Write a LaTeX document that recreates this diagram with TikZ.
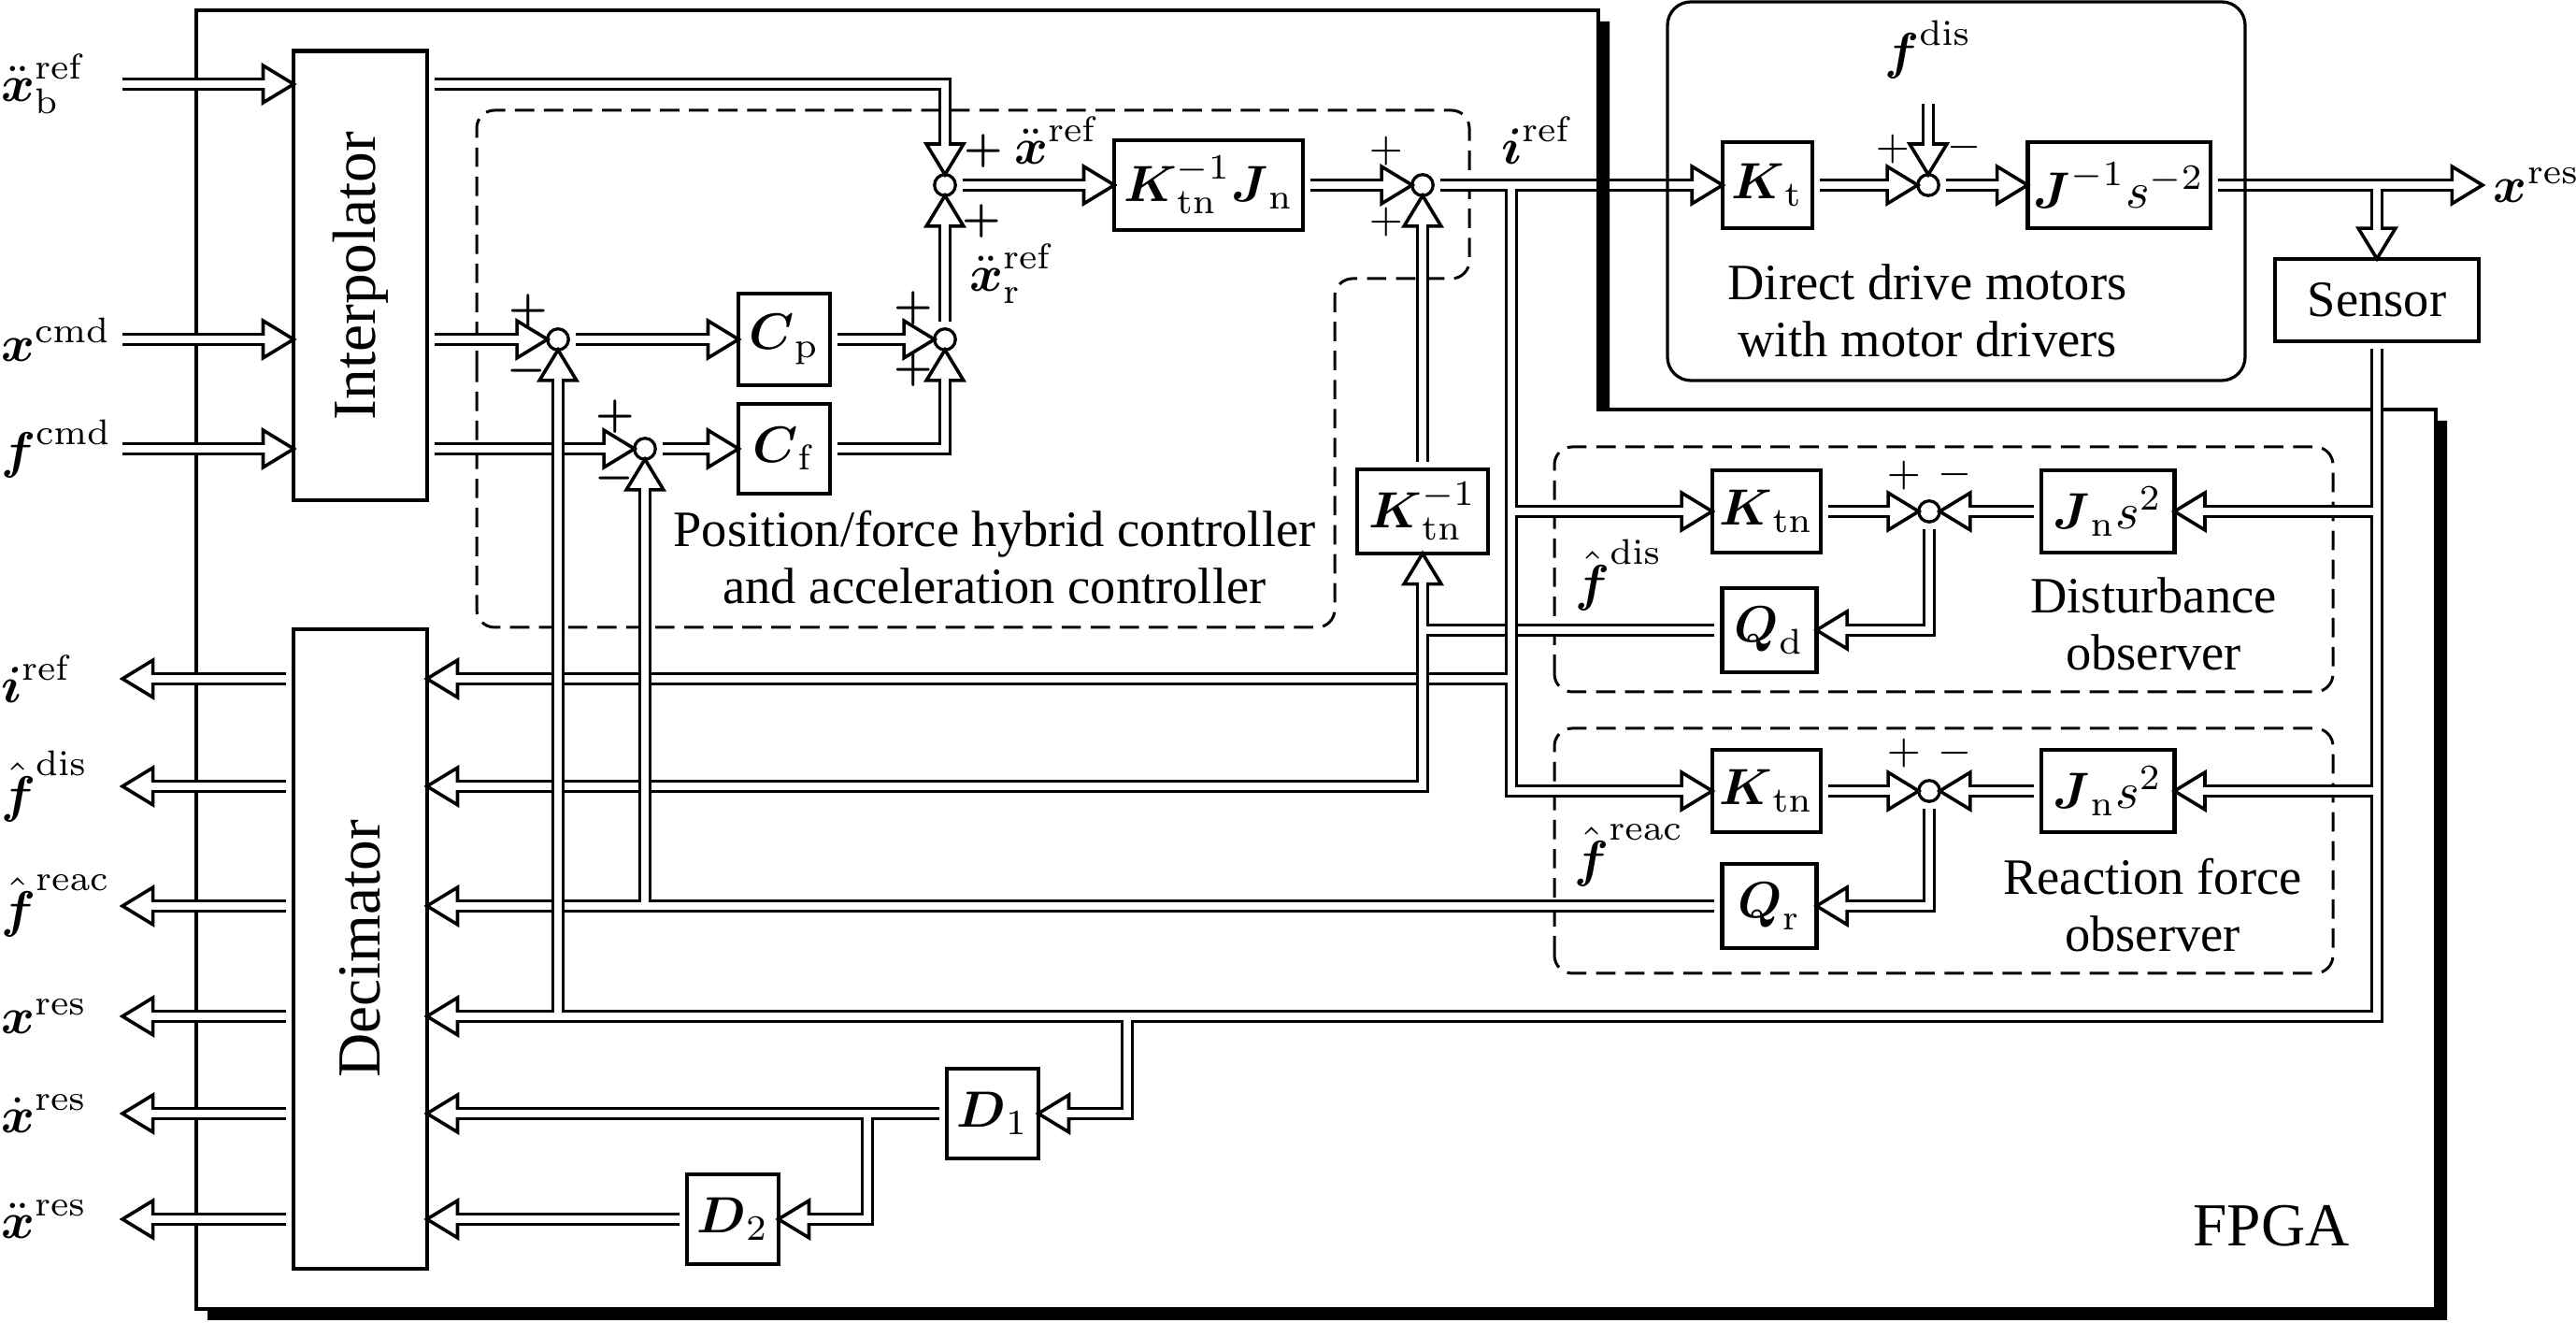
\documentclass[tikz,border=0pt]{standalone}
\usepackage{amsmath}
\usepackage{amssymb}
\usepackage[no-math]{fontspec}
\setmainfont{Liberation Serif}
\usetikzlibrary{positioning}
\usetikzlibrary{calc}
% hollow head for the double signal lines
\pgfarrowsdeclare{hollow}{hollow}
  {\pgfarrowsleftextend{-0.4pt}\pgfarrowsrightextend{6pt}}
  {\pgfsetlinewidth{0.66pt}\pgfsetdash{}{0pt}\pgfsetmiterjoin
   \pgfpathmoveto{\pgfpoint{6pt}{0pt}}
   \pgfpathlineto{\pgfpoint{0pt}{3.65pt}}
   \pgfpathlineto{\pgfpoint{0pt}{-3.65pt}}
   \pgfpathclose
   \pgfsetfillcolor{white}
   \pgfusepathqfillstroke}
\tikzset{>=hollow}

\begin{document}
\begin{tikzpicture}[x=0.645cm, y=0.645cm,
    wire/.style={draw=black, line width=2.7pt, postaction={draw=white, line width=1.3pt, -, shorten >=4.6pt}},
    gap/.style={shorten <=1.5pt},
    tap/.style={shorten <=0.65pt},
    block/.style={draw, line width=0.8pt, inner sep=0pt, outer sep=0pt},
    sum/.style={draw, circle, line width=0.6pt, inner sep=0pt, outer sep=0pt, minimum size=0.145cm},
    sgn/.style={inner sep=0pt, font=\footnotesize},
    sig/.style={anchor=west, inner sep=0pt},
    grp/.style={line width=0.55pt, dash pattern=on 3.8pt off 1.9pt, rounded corners=3.5pt},
    txt/.style={align=center, font=\fontsize{10}{11.2}\selectfont}]
\useasboundingbox (0,0) rectangle (27.56,14.15);

% FPGA board and its shadow
\fill [shift={(0.12,-0.12)}] (2.10,14.04) -- (17.10,14.04) -- (17.10,9.77) -- (26.06,9.77) -- (26.06,0.15) -- (2.10,0.15) -- cycle;
\draw [line width=0.8pt, fill=white] (2.10,14.04) -- (17.10,14.04) -- (17.10,9.77) -- (26.06,9.77) -- (26.06,0.15) -- (2.10,0.15) -- cycle;

% dashed groups
\draw [grp] (5.10,10.00) -- (5.10,12.97) -- (15.72,12.97) -- (15.72,11.17) -- (14.28,11.17) -- (14.28,7.44) -- (5.10,7.44) -- cycle;
\draw [grp] (16.63,6.75) rectangle (24.96,9.37);
\draw [grp] (16.63,3.74) rectangle (24.96,6.36);

% interpolator / decimator
\node [block, minimum width=0.92cm, minimum height=3.1cm] (interp) at (3.855,11.20) {\rotatebox{90}{\large Interpolator}};
\node [block, minimum width=0.92cm, minimum height=4.41cm] (dec) at (3.855,4.00) {\rotatebox{90}{\large Decimator}};

% hybrid controller
\node [sum] (sum3) at (5.97,10.52) {};
\node [sum] (sum4) at (6.90,9.35) {};
\node [block, minimum width=0.63cm, minimum height=0.63cm] (Cp) at (8.39,10.52) {$\boldsymbol{C}_{\mathrm{p}}$};
\node [block, minimum width=0.63cm, minimum height=0.62cm] (Cf) at (8.39,9.35) {$\boldsymbol{C}_{\mathrm{f}}$};
\node [sum] (sum5) at (10.11,10.52) {};
\node [sum] (sum1) at (10.11,12.17) {};
\node [block, minimum width=1.3cm, minimum height=0.62cm] (KJ) at (12.93,12.17) {$\boldsymbol{K}_{\mathrm{tn}}^{-1}\boldsymbol{J}_{\mathrm{n}}$};
\node [sum] (sum2) at (15.22,12.17) {};
\node [block, minimum width=0.9cm, minimum height=0.58cm] (Ktninv) at (15.22,8.68) {$\boldsymbol{K}_{\mathrm{tn}}^{-1}$};

% motors and sensor
\node [block, minimum width=0.62cm, minimum height=0.59cm] (Kt) at (18.91,12.17) {$\boldsymbol{K}_{\mathrm{t}}$};
\node [sum] (sum6) at (20.63,12.17) {};
\node [block, minimum width=1.26cm, minimum height=0.59cm] (Jinv) at (22.67,12.17) {$\boldsymbol{J}^{-1}s^{-2}$};
\node (fdis) at (20.63,13.62) {$\boldsymbol{f}^{\mathrm{dis}}$};
\node [block, minimum width=1.41cm, minimum height=0.57cm] (sensor) at (25.43,10.94) {Sensor};

% observers
\foreach \o/\y/\q in {d/8.68/7.41, r/5.69/4.46} {
  \node [block, minimum width=0.75cm, minimum height=0.57cm] (Ktn\o) at (18.90,\y) {$\boldsymbol{K}_{\mathrm{tn}}$};
  \node [sum] (sum\o) at (20.64,\y) {};
  \node [block, minimum width=0.92cm, minimum height=0.57cm] (Jns\o) at (22.55,\y) {$\boldsymbol{J}_{\mathrm{n}}s^2$};
  \node [block, minimum width=0.65cm, minimum height=0.58cm] (Q\o) at (18.93,\q) {$\boldsymbol{Q}_{\mathrm{\o}}$};
}

% differentiators
\node [block, minimum width=0.63cm, minimum height=0.62cm] (D1) at (10.62,2.24) {$\boldsymbol{D}_1$};
\node [block, minimum width=0.63cm, minimum height=0.62cm] (D2) at (7.84,1.11) {$\boldsymbol{D}_2$};

% free ends and taps
\coordinate (ixb) at (1.31,13.25);
\coordinate (ixc) at (1.31,10.52);
\coordinate (ifc) at (1.31,9.35);
\coordinate (oiref) at (1.31,6.89);
\coordinate (ofdis) at (1.31,5.74);
\coordinate (ofreac) at (1.31,4.46);
\coordinate (oxres) at (1.31,3.28);
\coordinate (odx) at (1.31,2.24);
\coordinate (oddx) at (1.31,1.11);
\coordinate (jiref) at (16.17,12.17);
\coordinate (xout) at (26.56,12.17);
\coordinate (jsens) at (25.43,12.17);
\coordinate (jsb) at (25.43,3.28);
\coordinate (jd1) at (12.06,3.28);
\coordinate (jd2) at (9.28,2.24);

% commands into the interpolator
\foreach \i in {ixb,ixc,ifc}
  \draw [wire,->] (\i) -- (interp.west |- \i);
\draw [wire,gap,->] (interp.east |- ixb) -| (sum1);
\draw [wire,gap,->] (interp.east |- ixc) -- (sum3);
\draw [wire,gap,->] (interp.east |- ifc) -- (sum4);

% controller
\draw [wire,gap,->] (sum3) -- (Cp);
\draw [wire,gap,->] (sum4) -- (Cf);
\draw [wire,gap,->] (Cp) -- (sum5);
\draw [wire,gap,->] (Cf) -| (sum5);
\draw [wire,gap,->] (sum5) -- (sum1);
\draw [wire,gap,->] (sum1) -- (KJ);
\draw [wire,gap,->] (KJ) -- (sum2);
\draw [wire,gap,->] (Ktninv) -- (sum2);

% plant
\draw [wire,gap,->] (sum2) -- (Kt);
\draw [wire,gap,->] (Kt) -- (sum6);
\draw [wire,gap,->] (fdis) -- (sum6);
\draw [wire,gap,->] (sum6) -- (Jinv);
\draw [wire,gap,->] (Jinv) -- (xout);
\draw [wire,tap,->] (jsens) -- (sensor);

% observers
\foreach \o in {d,r} {
  \draw [wire,gap,->] (Ktn\o) -- (sum\o);
  \draw [wire,gap,->] (Jns\o) -- (sum\o);
  \draw [wire,gap,->] (sum\o) |- (Q\o);
}
\draw [wire,gap,->] (Qd) -| (Ktninv);
\draw [wire,tap,->] (jiref) |- (Ktnr);
\draw [wire,tap,->] (jiref |- Ktnd) -- (Ktnd);
\draw [wire,tap,->] (jiref |- oiref) -- (dec.east |- oiref);
\draw [wire,tap,->] (Ktninv |- Qd) |- (dec.east |- ofdis);

% position feedback
\draw [wire,gap,->] (sensor) -- (jsb) -- (dec.east |- jsb);
\draw [wire,tap,->] (jsb |- Jnsd) -- (Jnsd);
\draw [wire,tap,->] (jsb |- Jnsr) -- (Jnsr);
\draw [wire,gap,->] (Qr) -- (dec.east |- Qr);
\draw [wire,tap,->] (jd1) |- (D1);
\draw [wire,gap,->] (D1) -- (dec.east |- D1);
\draw [wire,tap,->] (jd2) |- (D2);
\draw [wire,gap,->] (D2) -- (dec.east |- D2);
\draw [wire,tap,->] (sum3 |- jsb) -- (sum3);
\draw [wire,tap,->] (sum4 |- Qr) -- (sum4);

% decimated outputs
\foreach \o in {oiref,ofdis,ofreac,oxres,odx,oddx}
  \draw [wire,gap,->] (dec.west |- \o) -- (\o);

% edge of the board over the current line, motor box
\fill (17.10,13.92) rectangle (17.22,9.77);
\draw [line width=0.8pt] (17.10,14.04) -- (17.10,9.77);
\draw [line width=0.6pt, rounded corners=4.6pt] (17.84,10.08) rectangle (24.02,14.13);

% signs
\node [sgn] (s1a) at ($(sum1)+(0.41,0.36)$) {$\boldsymbol{+}$};
\node [sgn] (s1b) at ($(sum1)+(0.39,-0.39)$) {$\boldsymbol{+}$};
\node [sgn] (s5a) at ($(sum5)+(-0.34,0.33)$) {$\boldsymbol{+}$};
\node [sgn] (s5b) at ($(sum5)+(-0.34,-0.33)$) {$\boldsymbol{+}$};
\node [sgn] (s3a) at ($(sum3)+(-0.32,0.30)$) {$\boldsymbol{+}$};
\node [sgn] (s3b) at ($(sum3)+(-0.34,-0.34)$) {$\boldsymbol{-}$};
\node [sgn] (s4a) at ($(sum4)+(-0.32,0.34)$) {$\boldsymbol{+}$};
\node [sgn] (s4b) at ($(sum4)+(-0.33,-0.32)$) {$\boldsymbol{-}$};
\node [sgn] (s2a) at ($(sum2)+(-0.39,0.36)$) {$+$};
\node [sgn] (s2b) at ($(sum2)+(-0.39,-0.40)$) {$+$};
\node [sgn] (s6a) at ($(sum6)+(-0.38,0.38)$) {$+$};
\node [sgn] (s6b) at ($(sum6)+(0.39,0.40)$) {$-$};
\node [sgn] (sda) at ($(sumd)+(-0.27,0.38)$) {$+$};
\node [sgn] (sdb) at ($(sumd)+(0.28,0.39)$) {$-$};
\node [sgn] (sra) at ($(sumr)+(-0.27,0.40)$) {$+$};
\node [sgn] (srb) at ($(sumr)+(0.28,0.40)$) {$-$};

% signal names
\node (lxref) at (11.31,12.65) {$\ddot{\boldsymbol{x}}^{\mathrm{ref}}$};
\node (lxrr) at (10.83,11.22) {$\ddot{\boldsymbol{x}}^{\mathrm{ref}}_{\mathrm{r}}$};
\node (liref) at (16.45,12.65) {$\boldsymbol{i}^{\mathrm{ref}}$};
\node (lfd) at (17.32,8.00) {$\hat{\boldsymbol{f}}^{\mathrm{dis}}$};
\node (lfr) at (17.43,5.00) {$\hat{\boldsymbol{f}}^{\mathrm{reac}}$};
\node [right=2pt of xout, inner sep=0pt] (lxres) {$\boldsymbol{x}^{\mathrm{res}}$};
\node [sig] (lxb) at (0,13.25) {$\ddot{\boldsymbol{x}}^{\mathrm{ref}}_{\mathrm{b}}$};
\node [sig] (lxc) at (0,10.52) {$\boldsymbol{x}^{\mathrm{cmd}}$};
\node [sig] (lfc) at (0,9.35) {$\boldsymbol{f}^{\mathrm{cmd}}$};
\node [sig] (loi) at (0,6.89) {$\boldsymbol{i}^{\mathrm{ref}}$};
\node [sig] (lofd) at (0,5.74) {$\hat{\boldsymbol{f}}^{\mathrm{dis}}$};
\node [sig] (lofr) at (0,4.46) {$\hat{\boldsymbol{f}}^{\mathrm{reac}}$};
\node [sig] (lox) at (0,3.28) {$\boldsymbol{x}^{\mathrm{res}}$};
\node [sig] (lodx) at (0,2.24) {$\dot{\boldsymbol{x}}^{\mathrm{res}}$};
\node [sig] (loddx) at (0,1.11) {$\ddot{\boldsymbol{x}}^{\mathrm{res}}$};

% block captions
\node [txt] (tdd) at (20.62,10.83) {Direct drive motors\\with motor drivers};
\node [txt] (tctl) at (10.64,8.19) {Position/force hybrid controller\\and acceleration controller};
\node [txt] (tdob) at (23.04,7.48) {Disturbance\\observer};
\node [txt] (trob) at (23.03,4.47) {Reaction force\\observer};
\node [font=\large] (tfpga) at (24.30,1.04) {FPGA};
\end{tikzpicture}
\end{document}
